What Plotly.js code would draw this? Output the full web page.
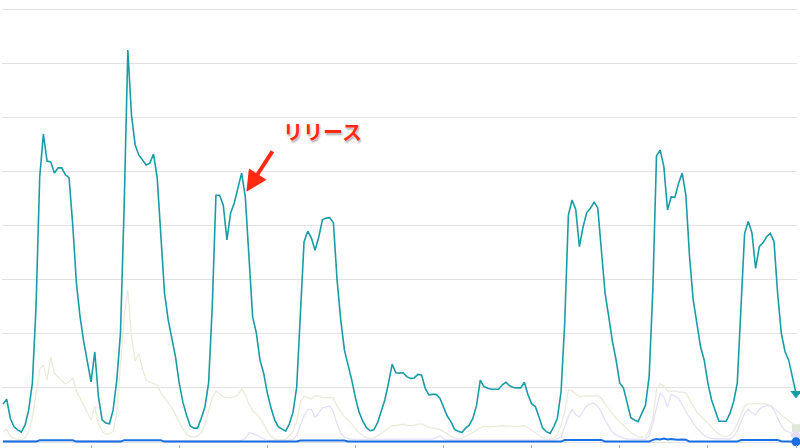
<!DOCTYPE html>
<html>
<head>
<meta charset="utf-8">
<script src="https://cdn.plot.ly/plotly-3.0.1.min.js"></script>
<style>html,body{margin:0;padding:0;background:#fff;}#chart{width:800px;height:448px;}</style>
</head>
<body>
<div id="chart"></div>
<script>
// Interest over time (relative scale 0-100), 217 periods
const teal = [8.8,9.9,5.5,3.5,2.8,2.3,3.9,7.4,13.6,31.2,
61.2,71.1,64.9,64.7,62.1,63.3,63.3,61.7,61.0,50.1,
36.7,28.9,23.1,18.9,13.9,20.8,10.4,5.1,4.4,4.2,
7.4,14.3,25.2,54.3,90.5,75.5,68.6,66.3,65.1,64.0,
64.4,66.5,61.0,46.7,34.4,28.2,24.0,19.6,13.6,9.2,
6.2,3.7,3.2,3.2,5.5,8.1,13.6,31.2,57.0,57.0,
54.7,46.7,52.9,55.2,58.7,62.1,56.6,43.6,28.9,25.2,
18.9,15.9,11.3,7.9,5.1,3.5,2.9,2.5,4.2,6.9,
12.7,30.5,46.2,48.7,47.1,44.3,47.3,51.3,51.7,51.8,
50.6,37.4,28.2,21.2,17.8,14.3,10.2,6.9,4.8,3.3,
2.6,2.8,4.4,6.9,9.7,13.6,18.0,16.0,15.9,16.0,
15.1,14.7,14.8,15.6,15.5,12.4,10.9,11.0,11.0,10.1,
8.2,6.0,4.7,2.9,2.5,2.2,3.2,3.9,5.5,8.5,
14.3,12.8,12.4,12.2,12.2,12.2,13.2,13.8,13.0,12.6,
12.5,12.5,13.8,10.9,8.8,8.2,5.8,3.2,2.4,2.0,
3.5,5.5,11.6,27.5,52.4,55.9,53.7,45.1,49.7,53.0,
54.0,55.4,54.1,44.3,34.3,28.9,23.2,18.9,13.6,12.5,
8.9,5.6,5.1,4.7,6.6,8.5,15.1,35.1,66.1,67.4,
63.6,53.6,56.6,56.5,59.7,62.1,57.0,42.8,32.8,27.4,
22.0,18.9,13.6,9.7,7.4,4.8,4.8,4.8,6.6,9.3,
13.6,31.2,48.2,50.9,48.3,40.1,45.1,46.0,47.4,48.2,
46.3,34.3,25.1,20.9,18.9,15.1,11.2];

const paleGreen = [2.5,2.8,1.4,0.8,0.6,0.5,0.9,2.5,5.5,11.5,
16.9,17.8,14.3,19.6,15.9,15.0,14.1,13.4,13.9,14.8,
11.8,10.2,8.5,6.7,5.1,8.3,4.2,2.5,1.8,1.8,
2.5,6.7,17.1,28.9,35.1,24.2,18.7,20.3,16.9,14.3,
13.9,13.6,13.2,11.3,10.2,9.0,7.9,6.2,4.4,3.0,
1.8,1.3,1.1,1.3,2.2,3.9,7.2,10.2,11.8,11.1,
10.4,10.2,10.2,10.4,10.9,12.2,10.9,8.8,7.2,6.5,
5.5,4.2,2.5,1.3,0.7,0.5,0.5,0.6,1.4,2.5,
4.8,9.2,10.5,10.3,9.9,10.7,10.6,10.2,10.3,10.3,
10.2,8.3,6.9,5.8,5.1,4.2,3.0,2.1,1.5,1.0,
0.8,0.9,1.4,2.0,2.5,3.2,3.8,3.8,3.9,4.1,
3.9,3.8,3.9,4.0,4.2,3.8,3.4,3.2,3.1,2.9,
2.4,1.8,1.3,0.9,0.7,0.9,1.3,1.7,2.2,2.8,
3.3,3.6,3.6,3.5,3.6,3.7,3.8,3.7,3.6,3.6,
3.6,3.7,3.8,3.3,2.8,2.2,1.6,1.0,0.7,0.5,
1.0,1.6,3.9,6.9,12.0,11.8,11.1,10.5,10.6,10.6,
10.5,10.6,10.7,10.1,8.8,7.6,6.5,5.5,4.7,3.8,
3.0,2.2,1.7,1.2,1.1,1.2,2.8,5.4,12.2,13.5,
12.8,11.8,11.7,11.8,11.5,11.5,11.3,9.8,8.4,6.9,
6.0,5.2,4.4,3.5,2.5,1.8,1.4,1.2,1.6,2.5,
4.2,6.1,8.3,8.8,8.9,8.9,8.8,8.8,8.8,8.5,
7.9,7.1,6.3,5.6,5.0,4.2,3.2];

const lavender = [0.3,0.3,0.3,0.3,0.3,0.3,0.3,0.3,0.3,0.3,
0.3,0.3,0.3,0.3,0.3,0.3,0.3,0.3,0.3,0.3,
0.3,0.3,0.3,0.3,0.3,0.3,0.3,0.3,0.3,0.3,
0.3,0.3,0.3,0.3,0.3,0.3,0.3,0.3,0.3,0.3,
0.3,0.3,0.3,0.3,0.3,0.3,0.3,0.3,0.3,0.3,
0.3,0.3,0.3,0.3,0.3,0.3,0.3,0.3,0.3,0.3,
0.3,0.3,0.3,0.3,0.3,0.4,0.8,2.1,2.0,1.5,
1.0,0.7,0.4,0.4,0.4,0.4,0.4,0.4,0.4,0.6,
1.5,4.0,6.0,7.5,7.6,5.6,6.8,7.9,8.1,8.3,
7.0,4.2,2.0,1.2,0.8,0.6,0.6,0.6,0.6,0.6,
0.6,0.6,0.6,0.6,0.6,0.6,0.6,0.6,0.6,0.6,
0.6,0.6,0.6,0.6,0.6,0.6,0.6,0.7,1.0,1.5,
0.7,0.5,0.5,0.5,0.5,0.5,0.5,0.5,0.5,0.5,
0.5,0.5,0.5,0.5,0.5,0.5,0.5,0.5,0.5,0.5,
0.5,0.5,0.5,0.5,0.5,0.5,0.5,0.5,0.5,0.5,
0.5,0.8,1.1,3.6,5.9,7.6,6.3,5.8,7.0,8.4,
8.8,9.0,8.3,6.9,5.0,3.5,2.3,1.6,1.2,0.9,
0.7,0.6,0.6,0.6,0.6,0.6,1.5,4.3,8.0,11.2,
10.5,8.1,11.0,10.6,10.0,8.7,7.0,5.6,4.4,3.2,
2.3,1.5,1.0,0.8,0.7,0.7,0.7,0.7,0.7,1.3,
2.6,4.7,6.6,7.6,6.7,6.3,7.6,8.1,8.4,8.4,
7.4,5.5,3.8,2.7,2.3,1.8,1.5];

const blue = [0.1,0.1,0.1,0.1,0.1,0.1,0.1,0.1,0.1,0.1,
0.4,0.4,0.4,0.4,0.4,0.4,0.4,0.4,0.4,0.4,
0.1,0.1,0.1,0.1,0.1,0.1,0.1,0.1,0.1,0.1,
0.1,0.1,0.1,0.4,0.4,0.4,0.4,0.4,0.4,0.4,
0.4,0.4,0.4,0.4,0.1,0.1,0.1,0.1,0.1,0.1,
0.1,0.1,0.1,0.1,0.1,0.1,0.1,0.1,0.1,0.1,
0.1,0.1,0.1,0.1,0.1,0.1,0.1,0.1,0.1,0.1,
0.1,0.1,0.1,0.1,0.1,0.1,0.1,0.1,0.1,0.1,
0.1,0.35,0.35,0.35,0.35,0.35,0.35,0.35,0.35,0.35,
0.35,0.35,0.35,0.35,0.1,0.1,0.1,0.1,0.1,0.1,
0.1,0.1,0.1,0.1,0.1,0.1,0.1,0.1,0.1,0.1,
0.1,0.1,0.1,0.1,0.1,0.1,0.1,0.1,0.1,0.1,
0.1,0.1,0.1,0.1,0.1,0.1,0.1,0.1,0.1,0.1,
0.1,0.1,0.1,0.1,0.1,0.1,0.1,0.1,0.1,0.1,
0.1,0.1,0.1,0.1,0.1,0.1,0.1,0.1,0.1,0.1,
0.1,0.1,0.1,0.45,0.45,0.45,0.45,0.45,0.45,0.45,
0.45,0.45,0.45,0.45,0.1,0.1,0.1,0.1,0.1,0.1,
0.1,0.1,0.1,0.1,0.1,0.1,0.1,0.5,0.7,0.6,
0.8,0.6,0.7,0.6,0.5,0.6,0.5,0.1,0.1,0.1,
0.1,0.1,0.1,0.1,0.1,0.1,0.1,0.1,0.1,0.1,
0.1,0.45,0.45,0.45,0.45,0.45,0.45,0.45,0.45,0.45,
0.45,0.45,0.2,0.15,0.1,0.1,0.05];

const tickPositions = [24,48,72,96,120,144,168,192,216];
const annotationText = "リリース";

const xs = teal.map((_, i) => i);
const last = xs.length - 1;

const C_TEAL = '#1a9ca6', C_GREEN = '#e8ecdc', C_LAV = '#e6dffc', C_BLUE = '#1a6fe3';

function lineTrace(y, color, width) {
  return {x: xs, y: y, type: 'scatter', mode: 'lines', hoverinfo: 'skip',
          line: {color: color, width: width}, showlegend: false};
}
function endMarker(y, color, symbol, size) {
  return {x: [xs[last]], y: [y[last]], type: 'scatter', mode: 'markers', cliponaxis: false,
          marker: {color: color, symbol: symbol, size: size, line: {width: 0}}, showlegend: false, hoverinfo: 'skip'};
}

const data = [
  lineTrace(paleGreen, C_GREEN, 1.3),
  lineTrace(lavender, C_LAV, 1.3),
  lineTrace(teal, C_TEAL, 1.6),
  lineTrace(blue, C_BLUE, 2),
  endMarker(paleGreen, '#dfe8d4', 'square', 8),
  endMarker(lavender, '#e6defc', 'diamond', 9),
  endMarker(teal, C_TEAL, 'triangle-down', 10),
  endMarker(blue, C_BLUE, 'circle', 9)
];

const layout = {
  width: 800, height: 448,
  margin: {l: 2, r: 3, t: 0, b: 4},
  paper_bgcolor: '#ffffff', plot_bgcolor: '#ffffff',
  showlegend: false,
  xaxis: {range: [-0.27, 216.27], showgrid: false, zeroline: false, showline: false,
          tickmode: 'array', tickvals: tickPositions, ticks: 'outside', ticklen: 5,
          tickcolor: '#b0b0b0', tickwidth: 1, showticklabels: false, fixedrange: true},
  yaxis: {range: [-0.46, 102.08], tick0: 0, dtick: 12.5, showgrid: true, gridcolor: '#e2e2e2',
          gridwidth: 1, zeroline: false, showline: false, showticklabels: false, ticks: '', fixedrange: true},
  annotations: [
    {x: 87, y: 71.6, xref: 'x', yref: 'y', text: annotationText, showarrow: false,
     font: {family: 'Noto Sans CJK JP, sans-serif', size: 20, weight: 'bold', color: '#ff2a12',
            shadow: '0 0 2px #ffffff, 1px 2px 2px rgba(0,0,0,0.35)'}},
    {x: 66.3, y: 57.8, xref: 'x', yref: 'y', text: '', showarrow: true,
     ax: 27, ay: -42, arrowcolor: '#ff2a12', arrowwidth: 4, arrowhead: 2, arrowsize: 1.05, standoff: 0}
  ]
};

Plotly.newPlot('chart', data, layout, {displayModeBar: false, staticPlot: true});
</script>
</body>
</html>
